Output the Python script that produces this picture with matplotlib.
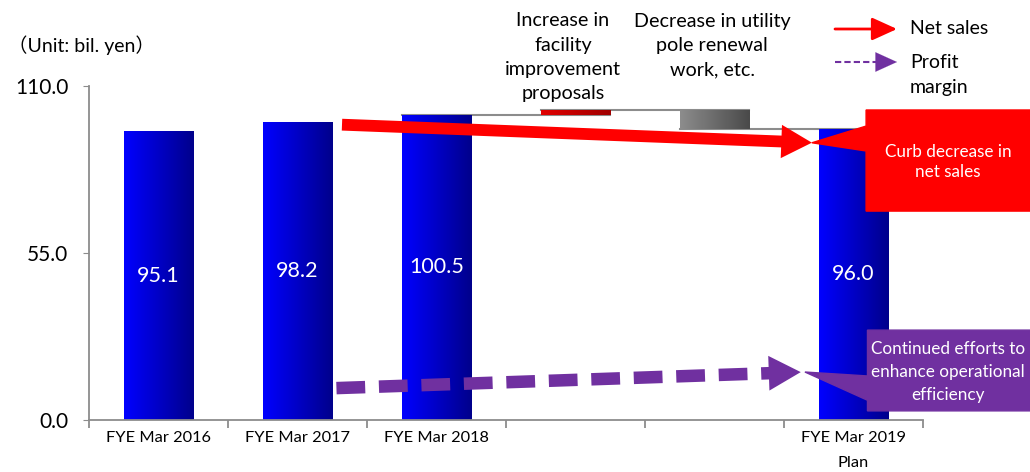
import matplotlib.pyplot as plt
import numpy as np
from matplotlib.colors import LinearSegmentedColormap
from matplotlib.patches import Polygon

plt.rcParams['font.family'] = ['Lato', 'Noto Sans CJK JP', 'DejaVu Sans']

# --- data ---
categorias = ["FYE Mar 2016", "FYE Mar 2017", "FYE Mar 2018", "", "", "FYE Mar 2019\nPlan"]
vendas = [95.1, 98.2, 100.5]          # net sales bars (actual)
plano_2019 = 96.0                     # plan bar
aumento_melhoria = 1.7                # increase in facility improvement proposals
reducao_postes = -6.2                 # decrease in utility pole renewal work, etc.
y_ticks = [0.0, 55.0, 110.0]

W = 0.5
fig = plt.figure(figsize=(10.30, 4.72), dpi=100)
ax = fig.add_axes([0.0864, 0.1102, 0.8098, 0.7076])
ax.set_xlim(-0.5, 5.5)
ax.set_ylim(0, 110)

def barra_gradiente(x, y0, y1, c_esq, c_dir, z=2):
    cmap = LinearSegmentedColormap.from_list('g', [c_esq, c_dir])
    r = ax.bar(x, y1 - y0, bottom=y0, width=W, color='none', zorder=z)[0]
    img = ax.imshow(np.linspace(0, 1, 64).reshape(1, -1), cmap=cmap, aspect='auto',
                    extent=(x - W / 2, x + W / 2, y0, y1), zorder=z, interpolation='bilinear')
    img.set_clip_path(r)

azul_esq, azul_dir = '#0000FF', '#00008C'
for i, v in enumerate(vendas):
    barra_gradiente(i, 0, v, azul_esq, azul_dir)
    ax.text(i, v / 2, f"{v:.1f}", color='white', ha='center', va='center', fontsize=15.5, zorder=5)

topo_vermelho = vendas[-1] + aumento_melhoria
barra_gradiente(3, vendas[-1], topo_vermelho, '#E00000', '#A00000')
barra_gradiente(4, topo_vermelho + reducao_postes, topo_vermelho, '#8C8C8C', '#4A4A4A')
barra_gradiente(5, 0, plano_2019, azul_esq, azul_dir)
ax.text(5, plano_2019 / 2, f"{plano_2019:.1f}", color='white', ha='center', va='center', fontsize=15.5, zorder=5)

# connectors
cinza = '#8C8C8C'
ax.plot([2 - W / 2, 3 + W / 2], [vendas[-1]] * 2, color=cinza, lw=1.5, zorder=1)
ax.plot([3 - W / 2, 4 + W / 2], [topo_vermelho] * 2, color=cinza, lw=1.5, zorder=1)
ax.plot([4 - W / 2, 5 + W / 2], [plano_2019] * 2, color=cinza, lw=1.5, zorder=1)
ax.set_xlim(-0.5, 5.5)
ax.set_ylim(0, 110)

# axes styling
for s in ['top', 'right']:
    ax.spines[s].set_visible(False)
for s in ['left', 'bottom']:
    ax.spines[s].set_color('#8C8C8C')
    ax.spines[s].set_linewidth(1.3)
ax.set_yticks(y_ticks)
ax.set_yticklabels([f"{t:.1f}" for t in y_ticks], fontsize=15)
ax.tick_params(axis='y', length=4, pad=11, color='#8C8C8C')
ax.set_xticks(range(6))
ax.set_xticklabels(categorias, fontsize=11.8, linespacing=2.0, va='top')
ax.set_xticks(np.arange(-0.5, 5.6, 1), minor=True)
ax.tick_params(axis='x', which='major', length=0, pad=8)
ax.tick_params(axis='x', which='minor', length=6, color='#8C8C8C', width=1.3)

# red arrow (net sales)
vermelho = '#FF0000'
ax.annotate('', xy=(4.72, 91.3), xytext=(1.30, 97.3), annotation_clip=False,
            arrowprops=dict(arrowstyle='simple,tail_width=0.85,head_width=2.4,head_length=2.2',
                            mutation_scale=10, color=vermelho, lw=0), zorder=6)

# purple dashed arrow (profit margin)
roxo = '#7030A0'
x0, y0, x1, y1 = 1.28, 10.5, 4.64, 15.8
fr = 0.94
ax.plot([x0, x0 + (x1 - x0) * fr], [y0, y0 + (y1 - y0) * fr], color=roxo, lw=9,
        dashes=(2.3, 1.1), solid_capstyle='butt', dash_capstyle='butt', zorder=6, clip_on=False)
ax.annotate('', xy=(x1, y1), xytext=(x0 + (x1 - x0) * 0.9, y0 + (y1 - y0) * 0.9), annotation_clip=False,
            arrowprops=dict(arrowstyle='simple,tail_width=0.0,head_width=2.5,head_length=2.3',
                            mutation_scale=10, color=roxo, lw=0), zorder=6)

# callouts
ax.add_patch(Polygon([(5.09, 102.1), (6.4, 102.1), (6.4, 68.8), (5.09, 68.8), (5.09, 88.6),
                      (4.70, 91.3), (5.09, 96.8)], closed=True, color=vermelho, zorder=7, clip_on=False))
ax.text(5.68, 85.0, "Curb decrease in\nnet sales", color='white', ha='center', va='center',
        fontsize=12.3, linespacing=1.3, zorder=8)
ax.add_patch(Polygon([(5.10, 29.6), (6.4, 29.6), (6.4, 3.0), (5.10, 3.0), (5.10, 6.5),
                      (4.65, 15.8), (5.10, 14.5)], closed=True, color=roxo, zorder=7, clip_on=False))
ax.text(5.68, 15.9, "Continued efforts to\nenhance operational\nefficiency", color='white',
        ha='center', va='center', fontsize=12.3, linespacing=1.55, zorder=8)

# top texts
fig.text(8 / 1030, 1 - 45 / 472, "（Unit: bil. yen）", fontsize=14, va='center', ha='left')
fig.text(563 / 1030, 1 - 57 / 472, "Increase in\nfacility\nimprovement\nproposals", fontsize=14.2,
         ha='center', va='center', linespacing=1.5)
fig.text(712 / 1030, 1 - 46 / 472, "Decrease in utility\npole renewal\nwork, etc.", fontsize=14.2,
         ha='center', va='center', linespacing=1.5)

# legend
ax.annotate('', xy=(897 / 1030, 1 - 29 / 472), xytext=(835 / 1030, 1 - 29 / 472), xycoords='figure fraction',
            arrowprops=dict(arrowstyle='-|>,head_width=0.5,head_length=1.1', lw=2, color=vermelho,
                            mutation_scale=14, shrinkA=0, shrinkB=0))
fig.text(910 / 1030, 1 - 29 / 472, "Net sales", fontsize=14, va='center')
ax.plot([835 / 1030, 880 / 1030], [1 - 62 / 472] * 2, transform=fig.transFigure, color=roxo, lw=1.5,
        ls=(0, (3, 1.5)), clip_on=False)
ax.annotate('', xy=(897 / 1030, 1 - 62 / 472), xytext=(880 / 1030, 1 - 62 / 472), xycoords='figure fraction',
            arrowprops=dict(arrowstyle='-|>,head_width=0.5,head_length=1.1', lw=0.1, color=roxo,
                            mutation_scale=14, shrinkA=0, shrinkB=0))
fig.text(910 / 1030, 1 - 75 / 472, "Profit\nmargin", fontsize=14, va='center', linespacing=1.5)

plt.savefig('out.png', dpi=100)
plt.close()
